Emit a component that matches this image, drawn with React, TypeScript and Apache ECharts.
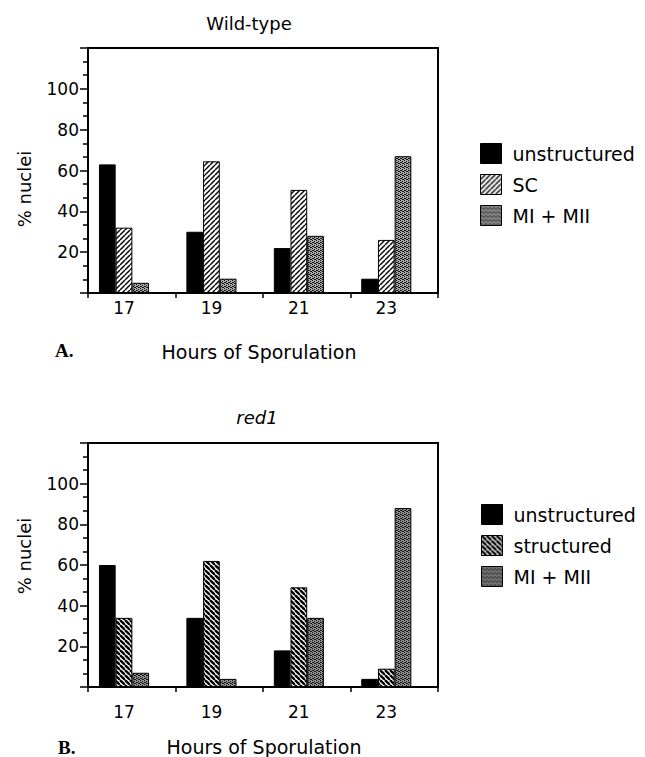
import React, { useEffect, useRef } from 'react';
import * as echarts from 'echarts';

const hours = ['17', '19', '21', '23'];
const wildTypeUnstructured = [63, 30, 22, 7];
const wildTypeSC = [32, 64.5, 50.5, 26];
const wildTypeMI = [5, 7, 28, 67];
const red1Unstructured = [60, 34, 18, 4];
const red1Structured = [34, 62, 49, 9];
const red1MI = [7, 4, 34, 88];
const yTickLabels = [20, 40, 60, 80, 100];

const FONT = '"DejaVu Sans", "Liberation Sans", sans-serif';

function makeTile(size: number, draw: (ctx: CanvasRenderingContext2D, s: number) => void) {
  const c = document.createElement('canvas');
  c.width = size;
  c.height = size;
  const ctx = c.getContext('2d') as CanvasRenderingContext2D;
  draw(ctx, size);
  return { image: c, repeat: 'repeat', imageWidth: size, imageHeight: size } as any;
}

function diag(up: boolean, bg: string, lw: number, s: number) {
  return makeTile(s, (ctx, n) => {
    ctx.fillStyle = bg;
    ctx.fillRect(0, 0, n, n);
    ctx.strokeStyle = '#000';
    ctx.lineWidth = lw;
    for (let k = -1; k <= 1; k++) {
      ctx.beginPath();
      if (up) {
        ctx.moveTo(k * n, n);
        ctx.lineTo(k * n + n, 0);
      } else {
        ctx.moveTo(k * n, 0);
        ctx.lineTo(k * n + n, n);
      }
      ctx.stroke();
    }
  });
}

function stipple(bg: string) {
  return makeTile(4, (ctx) => {
    ctx.fillStyle = bg;
    ctx.fillRect(0, 0, 4, 4);
    ctx.fillStyle = '#111';
    ctx.fillRect(0, 0, 1, 1);
    ctx.fillRect(2, 1, 1, 1);
    ctx.fillRect(1, 2, 1, 1);
    ctx.fillRect(3, 3, 1, 1);
    ctx.fillRect(2, 3, 1, 1);
    ctx.fillRect(0, 2, 1, 1);
  });
}

export default function App() {
  const ref = useRef<HTMLDivElement>(null);
  useEffect(() => {
    if (!ref.current) return;
    const chart = echarts.init(ref.current, undefined, { renderer: 'svg' });

    const black = { color: '#000', borderColor: '#000', borderWidth: 1 };
    const scTop = { color: diag(true, '#fff', 1.4, 5), borderColor: '#000', borderWidth: 1 };
    const miTop = { color: stipple('#a8a8a8'), borderColor: '#000', borderWidth: 1 };
    const structBot = { color: diag(false, '#fff', 2.4, 5), borderColor: '#000', borderWidth: 1 };
    const miBot = { color: stipple('#909090'), borderColor: '#000', borderWidth: 1 };

    const frameX = (gi: number) => ({
      type: 'category',
      gridIndex: gi,
      data: ['', '', '', ''],
      boundaryGap: true,
      axisLine: { show: true, lineStyle: { color: '#000', width: 2 } },
      axisTick: { show: true, inside: false, length: 5, lineStyle: { color: '#000', width: 1.5 } },
      axisLabel: { show: false },
      splitLine: { show: false },
    });
    const barX = (gi: number, margin: number) => ({
      type: 'category',
      gridIndex: gi,
      data: hours,
      axisLine: { show: false },
      axisTick: { show: false },
      axisLabel: { show: true, margin, color: '#000', fontSize: 17, fontFamily: FONT },
      splitLine: { show: false },
    });
    const frameY = (gi: number) => ({
      type: 'value',
      gridIndex: gi,
      min: 0,
      max: 120,
      interval: 20,
      axisLine: { show: true, lineStyle: { color: '#000', width: 2 } },
      axisTick: { show: true, inside: false, length: 8, lineStyle: { color: '#000', width: 1.5 } },
      minorTick: { show: true, splitNumber: 3, length: 5, lineStyle: { color: '#000', width: 1.5 } },
      axisLabel: {
        show: true,
        margin: 9,
        color: '#000',
        fontSize: 17,
        fontFamily: FONT,
        formatter: (v: number) => (yTickLabels.includes(v) ? String(v) : ''),
      },
      splitLine: { show: false },
      minorSplitLine: { show: false },
    });
    const hiddenY = (gi: number) => ({
      type: 'value',
      gridIndex: gi,
      min: 0,
      max: 120,
      interval: 20,
      show: false,
      splitLine: { show: false },
    });

    const barCommon = { type: 'bar', barWidth: 16.7, barGap: '0%' };

    const legendCommon = {
      orient: 'vertical',
      padding: 0,
      itemWidth: 21,
      itemHeight: 20,
      itemGap: 10,
      icon: 'rect',
      selectedMode: false,
      textStyle: { color: '#000', fontSize: 19, fontFamily: FONT, padding: [0, 0, 0, 6] },
    };

    const txt = (text: string, x: number, y: number, extra: any = {}, rotation = 0) => ({
      type: 'text',
      x,
      y,
      rotation,
      style: {
        text,
        fill: '#000',
        font: `18px ${FONT}`,
        align: 'center',
        verticalAlign: 'middle',
        ...extra,
      },
    });

    chart.setOption({
      animation: false,
      backgroundColor: '#fff',
      grid: [
        { left: 88, top: 48, width: 350, height: 245, show: true, borderColor: '#000', borderWidth: 2, backgroundColor: 'transparent' },
        { left: 80.3, top: 48, width: 349.7, height: 245 },
        { left: 88, top: 443, width: 350, height: 244, show: true, borderColor: '#000', borderWidth: 2, backgroundColor: 'transparent' },
        { left: 80.3, top: 443, width: 349.7, height: 244 },
      ],
      xAxis: [frameX(0), barX(1, 6), frameX(2), barX(3, 16)],
      yAxis: [frameY(0), hiddenY(1), frameY(2), hiddenY(3)],
      legend: [
        {
          ...legendCommon,
          left: 480,
          top: 143,
          data: [
            { name: 'unstructured', itemStyle: black },
            { name: 'SC', itemStyle: scTop },
            { name: 'MI + MII', itemStyle: miTop },
          ],
        },
        {
          ...legendCommon,
          left: 481,
          top: 504,
          data: [
            { name: 'unstructured', itemStyle: black },
            { name: 'structured', itemStyle: structBot },
            { name: 'MI + MII', itemStyle: miBot },
          ],
        },
      ],
      series: [
        { ...barCommon, name: 'unstructured', xAxisIndex: 1, yAxisIndex: 1, data: wildTypeUnstructured, itemStyle: black },
        { ...barCommon, name: 'SC', xAxisIndex: 1, yAxisIndex: 1, data: wildTypeSC, itemStyle: scTop },
        { ...barCommon, name: 'MI + MII', xAxisIndex: 1, yAxisIndex: 1, data: wildTypeMI, itemStyle: miTop },
        { ...barCommon, name: 'unstructured', xAxisIndex: 3, yAxisIndex: 3, data: red1Unstructured, itemStyle: black },
        { ...barCommon, name: 'structured', xAxisIndex: 3, yAxisIndex: 3, data: red1Structured, itemStyle: structBot },
        { ...barCommon, name: 'MI + MII', xAxisIndex: 3, yAxisIndex: 3, data: red1MI, itemStyle: miBot },
      ],
      graphic: [
        txt('Wild-type', 249, 23),
        txt('red1', 257, 417, { font: `italic 18px ${FONT}` }),
        txt('% nuclei', 24, 189, {}, Math.PI / 2),
        txt('% nuclei', 24, 556, {}, Math.PI / 2),
        txt('Hours of Sporulation', 259, 352, { font: `19px ${FONT}` }),
        txt('Hours of Sporulation', 264, 747, { font: `19px ${FONT}` }),
        txt('A.', 55, 350, { align: 'left', font: `bold 19px "Liberation Serif", serif` }),
        txt('B.', 58, 747, { align: 'left', font: `bold 19px "Liberation Serif", serif` }),
      ],
    });
    return () => chart.dispose();
  }, []);
  return (
    <div
      ref={ref}
      style={{ position: 'absolute', left: 0, top: 0, width: 645, height: 757 }}
    />
  );
}
